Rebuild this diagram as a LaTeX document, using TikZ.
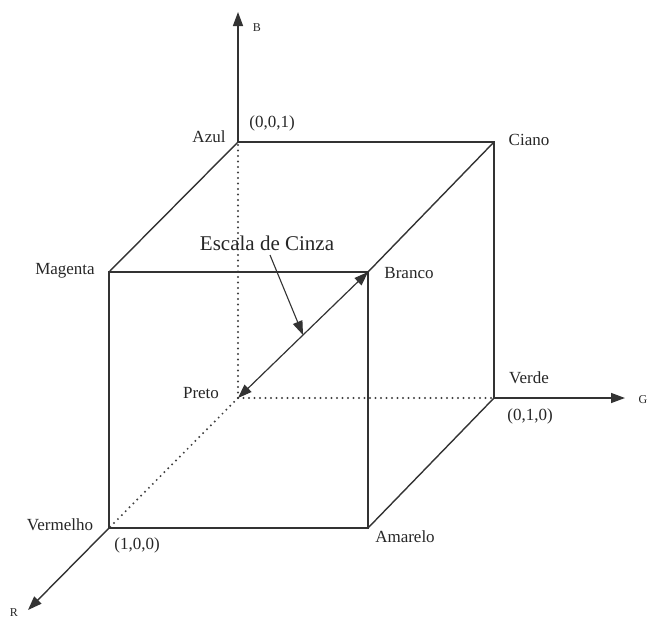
\documentclass[tikz,border=0pt]{standalone}
\usepackage{fontspec}
\setmainfont{Liberation Serif}
\usetikzlibrary{arrows.meta,calc}
\begin{document}
\begin{tikzpicture}[x=1pt,y=-1pt,
  edge/.style={draw=black!80,line width=1.4pt},
  dotline/.style={draw=black!75,line width=2.2pt,dash pattern=on 0pt off 5.5pt,line cap=round},
  lbl/.style={font=\fontsize{17}{20}\selectfont,text=black!85,inner sep=0pt},
  small/.style={font=\fontsize{12}{14}\selectfont,text=black!85,inner sep=0pt},
  tipend/.style={-{Triangle[length=14pt,width=10pt]}},
  tipboth/.style={{Triangle[length=14pt,width=10pt]}-{Triangle[length=14pt,width=10pt]}}]
\useasboundingbox (0,0) rectangle (649,621);
% corners
\coordinate (P) at (238,398);
\coordinate (Az) at (238,142);
\coordinate (Ci) at (494,142);
\coordinate (Ve) at (494,398);
\coordinate (Mg) at (109,272);
\coordinate (Br) at (368,272);
\coordinate (Vm) at (109,528);
\coordinate (Am) at (368,528);
% axis ends
\coordinate (Bt) at (238,12);
\coordinate (Gt) at (625,398);
\coordinate (Rt) at (28,610);
% hidden edges
\draw[dotline] (P) -- (Az);
\draw[dotline] (P) -- (Ve);
\draw[dotline] (P) -- (Vm);
% visible edges
\draw[edge] (Az) -- (Ci) -- (Ve);
\draw[edge] (Mg) -- (Br) -- (Am) -- (Vm) -- cycle;
\draw[edge] (Az) -- (Mg);
\draw[edge] (Ci) -- (Br);
\draw[edge] (Ve) -- (Am);
% axes
\draw[edge,tipend] (Az) -- (Bt);
\draw[edge,tipend] (Ve) -- (Gt);
\draw[edge,tipend] (Vm) -- (Rt);
% grey diagonal
\draw[edge,line width=1.2pt,tipboth] (P) -- (Br);
% labels
\node[small] (lB) at (257,28) {B};
\node[lbl] (l001) at (272,123) {(0,0,1)};
\node[lbl] (lAzul) at (209,137) {Azul};
\node[lbl] (lCiano) at (529,140) {Ciano};
\node[lbl] (lMagenta) at (65,271) {Magenta};
\node[lbl,font=\fontsize{21}{24}\selectfont] (lEsc) at (267,243) {Escala de Cinza};
\node[lbl] (lBranco) at (409,273) {Branco};
\node[lbl] (lPreto) at (201,393) {Preto};
\node[lbl] (lVerde) at (529,378) {Verde};
\node[lbl] (l010) at (530,416) {(0,1,0)};
\node[small] (lG) at (643,400) {G};
\node[lbl] (lVerm) at (60,525) {Vermelho};
\node[lbl] (l100) at (137,545) {(1,0,0)};
\node[lbl] (lAma) at (405,537) {Amarelo};
\node[small] (lR) at (14,613) {R};
% pointer
\coordinate (Dg) at ($(P)!0.5!(Br)$);
\draw[edge,line width=1.1pt,tipend] (270,255) -- (Dg);
\end{tikzpicture}
\end{document}
